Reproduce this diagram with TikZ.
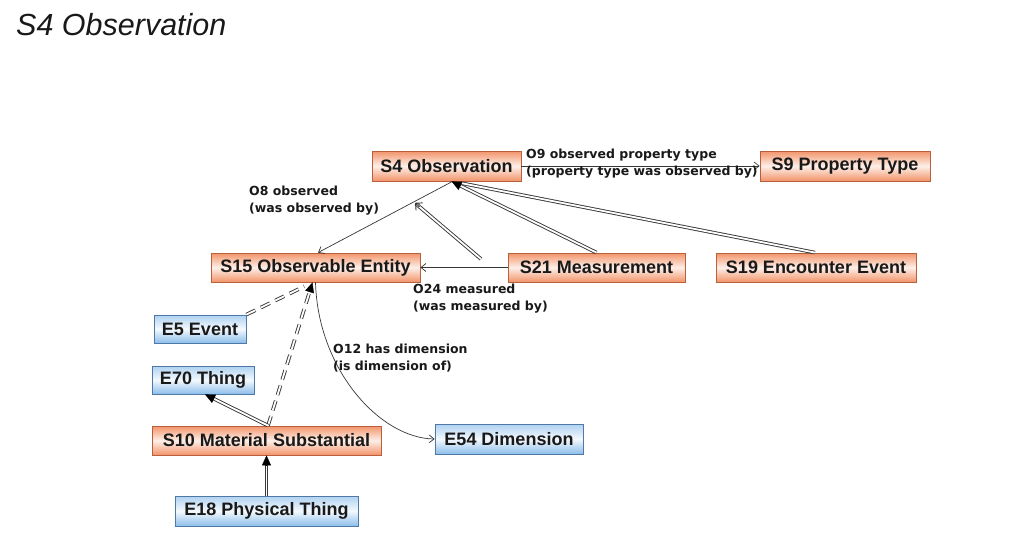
\documentclass[tikz,border=0pt]{standalone}
\usepackage{fontspec}
\setmainfont{Liberation Sans}
\newfontfamily\lblfont{DejaVu Sans}
\usetikzlibrary{arrows.meta,calc}
\definecolor{salm}{RGB}{242,148,105}
\definecolor{salmdk}{RGB}{185,95,60}
\definecolor{skyb}{RGB}{140,190,235}
\definecolor{skybdk}{RGB}{80,120,165}
\definecolor{linegray}{RGB}{55,55,55}
\definecolor{txt}{RGB}{25,25,25}
\begin{document}
\begin{tikzpicture}[x=1pt,y=-1pt,
  every node/.style={text=txt},
  sbox/.style={draw=salmdk, line width=0.8pt, top color=salm, bottom color=salm, middle color=salm!15!white,
    font=\bfseries\fontsize{18}{20}\selectfont, inner sep=0pt},
  ebox/.style={draw=skybdk, line width=0.8pt, top color=skyb!70!white, bottom color=skyb, middle color=skyb!10!white,
    font=\bfseries\fontsize{18}{20}\selectfont, inner sep=0pt},
  lbl/.style={font=\lblfont\bfseries\fontsize{12.5}{17}\selectfont, align=left, anchor=west, inner sep=0pt},
  rel/.style={draw=linegray, line width=0.7pt, -{Straight Barb[length=5pt,width=8pt]}},
  isa/.style={draw=linegray, double=white, double distance=1.8pt, line width=0.9pt},
  isad/.style={isa, dash pattern=on 10pt off 6pt},
  isatip/.style={draw=black, fill=black, line width=0.4pt, -{Triangle[length=10pt,width=9pt]}},
  barbtip/.style={draw=linegray, line width=0.9pt, -{Straight Barb[length=5pt,width=10pt]}}
]
\path[use as bounding box, fill=white] (0,0) rectangle (1024,551);

\node[anchor=west, inner sep=0pt, font=\itshape\fontsize{30.5}{32}\selectfont, text=txt] (title) at (16,25) {S4 Observation};

% nodes
\node[sbox, minimum width=149pt, minimum height=30pt] (s4) at (446.5,166) {S4 Observation};
\node[sbox, minimum width=170pt, minimum height=30pt] (s9) at (845,166) {S9 Property Type};
\node[sbox, minimum width=209pt, minimum height=29pt] (s15) at (315.5,267.5) {S15 Observable Entity};
\node[sbox, minimum width=177pt, minimum height=29pt] (s21) at (596.5,267.5) {S21 Measurement};
\node[sbox, minimum width=200pt, minimum height=29pt] (s19) at (816,267.5) {S19 Encounter Event};
\node[ebox, minimum width=92pt, minimum height=28pt] (e5) at (200,329) {E5 Event};
\node[ebox, minimum width=102pt, minimum height=28pt] (e70) at (203,380) {E70 Thing};
\node[sbox, minimum width=229pt, minimum height=29pt] (s10) at (266.5,440.5) {S10 Material Substantial};
\node[ebox, minimum width=148pt, minimum height=30pt] (e54) at (509,439) {E54 Dimension};
\node[ebox, minimum width=183pt, minimum height=30pt] (e18) at (266.5,511) {E18 Physical Thing};

% free coordinates of the detached arrow
\coordinate (m1) at (481,259);
\coordinate (m2) at (415,203);

% relations
\draw[rel] ([xshift=6pt]s4.south) -- ([xshift=2.5pt]s15.north);
\draw[rel] (s21.west) -- (s15.east);
\draw[rel] (s4.east) -- (s9.west);
\draw[rel] (s15.south) .. controls (318,370) and (380,438) .. (e54.west);

% isa (double) links
\draw[isa, shorten >=9pt] (s21.north) -- ([xshift=5pt]s4.south);
\draw[isa, shorten >=9pt] ([xshift=-1pt]s19.north) -- ([xshift=6pt]s4.south);
\draw[isatip] ($([xshift=5pt]s4.south)!10pt!(s21.north)$) -- ([xshift=5pt]s4.south);
\draw[isa, shorten >=1pt] (m1) -- (m2);
\draw[barbtip] ($(m2)!6pt!(m1)$) -- (m2);

\draw[isad, shorten >=9pt] (e5.north east) -- ([xshift=-3pt]s15.south);
\draw[isad, shorten >=9pt] ([xshift=1.5pt]s10.north) -- ([xshift=-3pt]s15.south);
\draw[isatip] ($([xshift=-3pt]s15.south)!10pt!([xshift=1.5pt]s10.north)$) -- ([xshift=-3pt]s15.south);

\draw[isa, shorten >=9pt] ([xshift=1.5pt]s10.north) -- ([xshift=2pt]e70.south);
\draw[isatip] ($([xshift=2pt]e70.south)!10pt!([xshift=1.5pt]s10.north)$) -- ([xshift=2pt]e70.south);
\draw[isa, shorten >=9pt] (e18.north) -- (s10.south);
\draw[isatip] ($(s10.south)!10pt!(e18.north)$) -- (s10.south);

% labels
\node[lbl] (l8) at (249,200.5) {O8 observed\\(was observed by)};
\node[lbl] (l9) at (526,163.5) {O9 observed property type\\(property type was observed by)};
\node[lbl] (l24) at (413,298.5) {O24 measured\\(was measured by)};
\node[lbl] (l12) at (333,358.5) {O12 has dimension\\(is dimension of)};
\end{tikzpicture}
\end{document}
